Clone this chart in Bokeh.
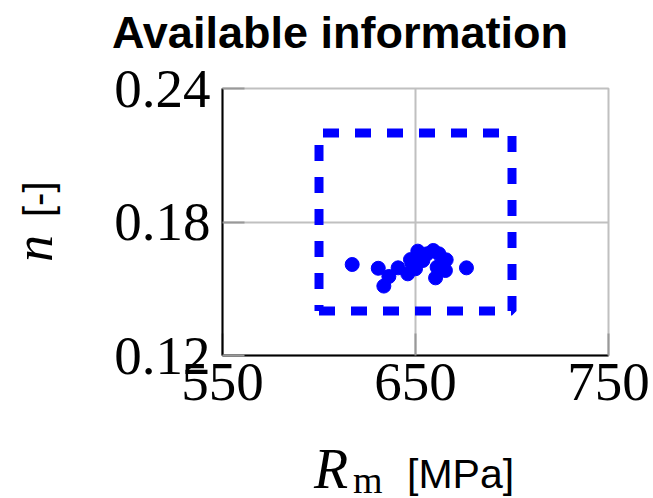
from bokeh.plotting import figure
from bokeh.models import FixedTicker, Range1d, Div
from bokeh.layouts import column, row
from bokeh.embed import file_html
from bokeh.resources import INLINE

# Data
rm_values = [617.2, 630.7, 636.2, 633.6, 641.0, 646.0, 647.4, 648.3, 650.0, 651.2,
             653.8, 656.0, 659.2, 662.1, 661.2, 660.4, 665.9, 665.5, 676.4]
n_values = [0.1609, 0.1592, 0.1555, 0.1512, 0.1594, 0.1567, 0.1631, 0.1612, 0.1590, 0.1669,
            0.1627, 0.1657, 0.1672, 0.1657, 0.1597, 0.1549, 0.1630, 0.1582, 0.1594]
box_rm = [600, 700, 700, 600, 600]
box_n = [0.14, 0.14, 0.22, 0.22, 0.14]
x_ticks = [550, 650, 750]
y_ticks = [0.12, 0.18, 0.24]
y_tick_labels = {0.12: "0.12", 0.18: "0.18", 0.24: "0.24"}
title_text = "Available information"

fig = figure(frame_width=386, frame_height=267, min_border_left=142, min_border_right=45,
             min_border_top=38, min_border_bottom=60, output_backend="svg",
             toolbar_location=None, x_range=Range1d(550, 750), y_range=Range1d(0.12, 0.24),
             margin=0)
fig.background_fill_color = "white"
fig.border_fill_color = "white"
fig.outline_line_color = "#c0c0c0"
fig.outline_line_width = 2

for ax in (fig.xaxis[0], fig.yaxis[0]):
    ax.axis_line_color = "black"
    ax.axis_line_width = 2
    ax.major_tick_in = 22
    ax.major_tick_out = 0
    ax.major_tick_line_color = "#999999"
    ax.major_tick_line_width = 2
    ax.minor_tick_line_color = None
    ax.major_label_text_font = "Liberation Serif"
    ax.major_label_text_font_size = "55px"
    ax.major_label_text_color = "black"

fig.xaxis.ticker = FixedTicker(ticks=x_ticks)
fig.yaxis.ticker = FixedTicker(ticks=y_ticks)
fig.yaxis.major_label_overrides = y_tick_labels
fig.xaxis.major_label_standoff = 8
fig.yaxis.major_label_standoff = 12

fig.xgrid.ticker = FixedTicker(ticks=x_ticks)
fig.ygrid.ticker = FixedTicker(ticks=y_ticks)
for g in (fig.xgrid[0], fig.ygrid[0]):
    g.grid_line_color = "#c0c0c0"
    g.grid_line_width = 2

fig.line(box_rm, box_n, line_color="#0000ff", line_width=9, line_dash="16 16")
fig.scatter(rm_values, n_values, size=14, color="#0000ff")

title_div = Div(width=653, height=50, margin=0, text=(
    '<div style="margin-left:112px;margin-top:16px;white-space:nowrap;line-height:34px;'
    'font-family:\'Liberation Sans\';font-weight:bold;font-size:45px;color:black">'
    + title_text + '</div>'))

ylab_div = Div(width=80, height=365, margin=0, text=(
    '<div style="position:relative;width:80px;height:365px">'
    '<div style="position:absolute;left:10px;top:212px;transform-origin:0 0;'
    'transform:rotate(-90deg);white-space:nowrap;line-height:48px;color:black;'
    'font-family:\'Liberation Serif\';font-size:48px">'
    '<span style="display:inline-block;width:30px;font-style:italic;font-size:54px">n</span>'
    '<span style="display:inline-block;margin-left:15px;font-family:\'Liberation Sans\';'
    'font-size:40px">[-]</span></div></div>'))

xlab_div = Div(width=653, height=83, margin=0, text=(
    '<div style="margin-left:314px;margin-top:29px;white-space:nowrap;line-height:50px;'
    'color:black;font-family:\'Liberation Serif\';font-size:50px">'
    '<span style="display:inline-block;width:39px;font-style:italic;font-size:56px">R</span>'
    '<span style="display:inline-block;width:54px;font-size:38px;line-height:30px;'
    'position:relative;top:5px">m</span>'
    '<span style="font-family:\'Liberation Sans\';font-size:41px">[MPa]</span></div>'))

p = column(title_div, row(ylab_div, fig, margin=0, spacing=0), xlab_div, margin=0, spacing=0)

open("out.html", "w").write(file_html(p, INLINE))
